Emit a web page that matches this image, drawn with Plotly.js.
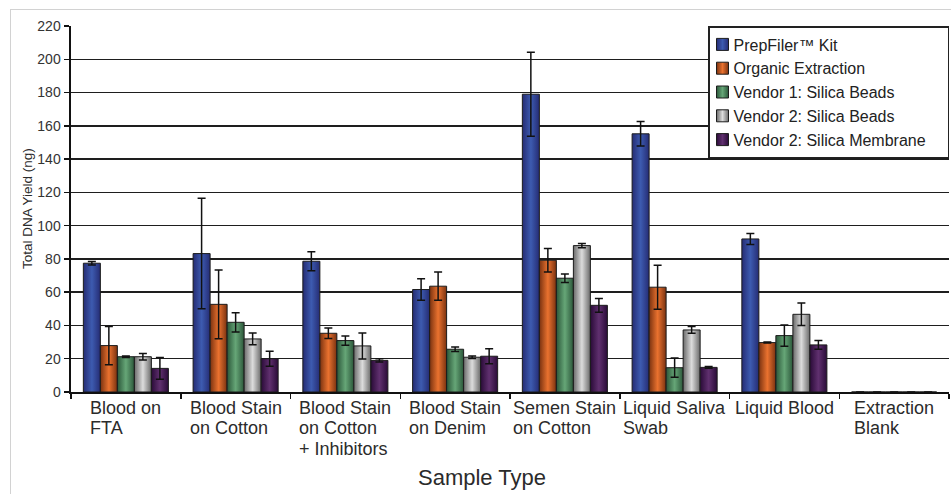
<!DOCTYPE html>
<html>
<head>
<meta charset="utf-8">
<script src="https://cdn.plot.ly/plotly-3.0.1.min.js"></script>
<style>
  html, body { margin: 0; padding: 0; background: #ffffff; }
  #wrap { position: relative; width: 951px; height: 494px; overflow: hidden; }
  #chart { position: absolute; left: 0; top: 0; width: 951px; height: 494px; }
  #frame { position: absolute; left: 10px; top: 9px; width: 1200px; height: 800px;
           border: 1px solid #d2d2d2; pointer-events: none; z-index: 5; }
</style>
</head>
<body>
<div id="wrap">
  <div id="chart"></div>
  <div id="frame"></div>
</div>
<script>
// ---------------- data ----------------
const categories = ['Blood on FTA', 'Blood Stain on Cotton', 'Blood Stain on Cotton + Inhibitors',
  'Blood Stain on Denim', 'Semen Stain on Cotton', 'Liquid Saliva Swab', 'Liquid Blood', 'Extraction Blank'];
const tickLabels = ['Blood on<br>FTA', 'Blood Stain<br>on Cotton', 'Blood Stain<br>on Cotton<br>+ Inhibitors',
  'Blood Stain<br>on Denim', 'Semen Stain<br>on Cotton', 'Liquid Saliva<br>Swab', 'Liquid Blood', 'Extraction<br>Blank'];
const seriesNames = ['PrepFiler\u2122 Kit', 'Organic Extraction', 'Vendor 1: Silica Beads',
  'Vendor 2: Silica Beads', 'Vendor 2: Silica Membrane'];

const prepFiler       = [77.4, 83.2, 78.6, 61.6, 179.0, 155.2, 92.0, 0];
const prepFilerErr    = [1.0, 33.2, 5.7, 6.5, 25.2, 7.4, 3.3, 0];
const organic         = [27.9, 52.7, 35.3, 63.6, 79.2, 63.0, 29.7, 0];
const organicErr      = [11.5, 20.7, 3.2, 8.5, 7.1, 13.2, 0.3, 0];
const vendor1Beads    = [21.2, 41.9, 30.9, 25.7, 68.4, 14.6, 33.9, 0];
const vendor1BeadsErr = [0.5, 5.8, 2.8, 1.3, 2.6, 5.8, 6.4, 0];
const vendor2Beads    = [21.2, 31.9, 27.7, 20.9, 88.0, 37.3, 46.7, 0];
const vendor2BeadsErr = [2.0, 3.5, 7.8, 0.7, 1.3, 2.0, 6.8, 0];
const vendor2Membrane    = [14.2, 20.0, 19.0, 21.5, 52.1, 14.8, 28.3, 0];
const vendor2MembraneErr = [6.5, 4.5, 1.0, 4.5, 4.1, 0.5, 2.6, 0];

const yTicks = [0, 20, 40, 60, 80, 100, 120, 140, 160, 180, 200, 220];

// ---------------- styles ----------------
const baseColors = ['#2d3c97', '#c2561f', '#457b55', '#a6a6a6', '#3e1650'];
const gradStops = [
  ['#252c74', '#3d5bb0', '#252c74'],
  ['#7a3210', '#ea722f', '#7a3210'],
  ['#2b573a', '#66a677', '#2b573a'],
  ['#6a6a6a', '#dcdcdc', '#6a6a6a'],
  ['#2a0b38', '#60306f', '#2a0b38']
];
const FONT = '"Liberation Sans", Arial, Helvetica, sans-serif';

const values = [prepFiler, organic, vendor1Beads, vendor2Beads, vendor2Membrane];
const errors = [prepFilerErr, organicErr, vendor1BeadsErr, vendor2BeadsErr, vendor2MembraneErr];

const traces = values.map((v, i) => ({
  type: 'bar',
  name: seriesNames[i],
  x: categories,
  y: v,
  marker: { color: baseColors[i], line: { color: '#1c1c1c', width: 1 } },
  error_y: { type: 'data', array: errors[i], visible: true, color: '#111111', thickness: 1.5, width: 4 },
  hoverinfo: 'x+y+name'
}));

// ---------------- category labels (left-aligned lines, centered block) ----------------
const annotations = tickLabels.map((lbl, ci) => ({
  xref: 'x', yref: 'paper', x: categories[ci], y: 0,
  xanchor: 'center', yanchor: 'top', yshift: -4,
  text: lbl, showarrow: false, align: 'left',
  font: { family: FONT, size: 18, color: '#2b2b2b' }
}));
annotations.push({
  xref: 'paper', yref: 'paper', x: 0.468, y: 0, xanchor: 'center', yanchor: 'middle',
  yshift: -85, text: 'Sample Type', showarrow: false,
  font: { family: FONT, size: 22, color: '#2b2b2b' }
});
annotations.push({
  xref: 'paper', yref: 'paper', x: 0, y: 0.5, xanchor: 'center', yanchor: 'middle',
  xshift: -44, textangle: -90, text: 'Total DNA Yield (ng)', showarrow: false,
  font: { family: FONT, size: 13.5, color: '#2b2b2b' }
});

const layout = {
  width: 951, height: 494,
  margin: { l: 71, r: 2, t: 26, b: 102, pad: 0 },
  paper_bgcolor: 'rgba(0,0,0,0)', plot_bgcolor: '#ffffff',
  barmode: 'group', bargap: 0.225, bargroupgap: 0,
  font: { family: FONT, color: '#2b2b2b' },
  showlegend: true,
  legend: {
    x: 1, y: 1, xanchor: 'right', yanchor: 'top',
    bgcolor: '#ffffff', bordercolor: '#222222', borderwidth: 1.5,
    font: { family: FONT, size: 16, color: '#222222' },
    itemwidth: 30, traceorder: 'normal'
  },
  xaxis: {
    type: 'category', categoryorder: 'array', categoryarray: categories,
    showticklabels: false, tickson: 'boundaries', ticks: 'outside', ticklen: 5,
    tickcolor: '#111111', tickwidth: 1.5,
    showline: true, linecolor: '#111111', linewidth: 2, showgrid: false, zeroline: false,
    fixedrange: true
  },
  yaxis: {
    range: [0, 220], tickvals: yTicks, ticktext: yTicks.map(String),
    ticks: 'outside', ticklen: 5, tickcolor: '#111111', tickwidth: 1.5,
    tickfont: { family: FONT, size: 14, color: '#333333' },
    showline: true, linecolor: '#111111', linewidth: 2.5,
    showgrid: true, gridcolor: '#1e1e1e', gridwidth: 1.5, zeroline: false,
    fixedrange: true
  },
  annotations: annotations
};

Plotly.newPlot('chart', traces, layout, { displayModeBar: false, staticPlot: true }).then(gd => {
  // tighter line spacing for the multi-line category labels (as in the reference)
  gd.querySelectorAll('text.annotation-text').forEach(t => {
    const lines = t.querySelectorAll('tspan.line');
    if (lines.length > 1) lines.forEach((l, i) => l.setAttribute('dy', (i * 1.13) + 'em'));
  });

  // legend: swatch and text closer to the left edge
  gd.querySelectorAll('.legend .traces').forEach(t => {
    const txt = t.querySelector('text.legendtext');
    if (txt) txt.setAttribute('x', '24');
    const pts = t.querySelector('g.legendpoints');
    if (pts) pts.setAttribute('transform', 'translate(-7,0)');
  });

  // horizontal cylindrical gradients to emulate the shaded bars
  const svgNS = 'http://www.w3.org/2000/svg';
  const defs = gd.querySelector('.main-svg defs');
  if (!defs) return;
  gradStops.forEach((stops, i) => {
    const g = document.createElementNS(svgNS, 'linearGradient');
    g.setAttribute('id', 'barGrad' + i);
    g.setAttribute('x1', '0'); g.setAttribute('y1', '0');
    g.setAttribute('x2', '1'); g.setAttribute('y2', '0');
    [[0, stops[0]], [0.5, stops[1]], [1, stops[2]]].forEach(([o, c]) => {
      const s = document.createElementNS(svgNS, 'stop');
      s.setAttribute('offset', o);
      s.setAttribute('stop-color', c);
      g.appendChild(s);
    });
    defs.appendChild(g);
  });
  gd.querySelectorAll('.barlayer .trace').forEach((t, i) => {
    t.querySelectorAll('.point path').forEach(p => { p.style.fill = 'url(#barGrad' + i + ')'; });
  });
  gd.querySelectorAll('.legend .traces').forEach((t, i) => {
    t.querySelectorAll('.legendpoints path').forEach(p => { p.style.fill = 'url(#barGrad' + i + ')'; });
  });
});
</script>
</body>
</html>
